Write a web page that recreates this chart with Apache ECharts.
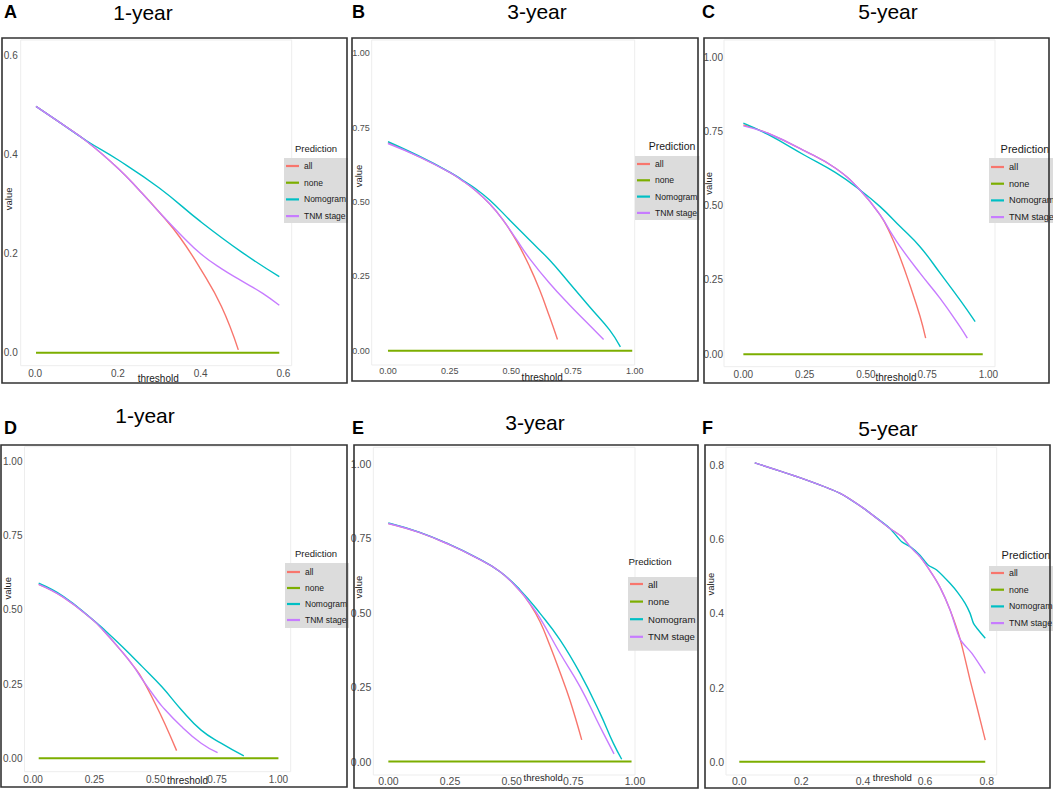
<!DOCTYPE html>
<html><head><meta charset="utf-8">
<script src="https://cdn.jsdelivr.net/npm/echarts@6/dist/echarts.min.js"></script>
<style>html,body{margin:0;padding:0;background:#fff}#c{width:1053px;height:791px}</style>
</head><body><div id="c"></div>
<script>
// ---------- DATA ----------
const seriesNames = ['all', 'none', 'Nomogram', 'TNM stage'];
const panelLetters = ['A', 'B', 'C', 'D', 'E', 'F'];
const panelTitles = ['1-year', '3-year', '5-year', '1-year', '3-year', '5-year'];
const legendTitle = 'Prediction';
const xAxisTitle = 'threshold';
const yAxisTitle = 'value';

const ticksA = [0, 0.2, 0.4, 0.6];
const ticksQuarter = [0, 0.25, 0.5, 0.75, 1];
const ticksF = [0, 0.2, 0.4, 0.6, 0.8];

// Panel A (1-year)
const A_all  = [[0.002,0.498],[0.06,0.465],[0.125,0.427],[0.2,0.373],[0.25,0.33],[0.3,0.284],[0.35,0.233],[0.4,0.169],[0.45,0.094],[0.491,0.006]];
const A_none = [[0.002,0],[0.59,0]];
const A_nom  = [[0.002,0.498],[0.06,0.465],[0.125,0.428],[0.2,0.39],[0.3,0.333],[0.4,0.265],[0.5,0.203],[0.59,0.154]];
const A_tnm  = [[0.002,0.498],[0.06,0.465],[0.125,0.427],[0.2,0.373],[0.25,0.33],[0.3,0.284],[0.35,0.24],[0.4,0.2],[0.45,0.17],[0.5,0.145],[0.55,0.12],[0.59,0.096]];

// Panel B (3-year)
const B_all  = [[0,0.70],[0.125,0.653],[0.25,0.6],[0.3,0.573],[0.35,0.542],[0.412,0.494],[0.466,0.44],[0.52,0.37],[0.574,0.283],[0.615,0.204],[0.655,0.114],[0.687,0.038]];
const B_none = [[0,0],[0.99,0]];
const B_nom  = [[0,0.703],[0.125,0.655],[0.25,0.601],[0.3,0.575],[0.35,0.548],[0.412,0.507],[0.493,0.44],[0.574,0.372],[0.655,0.305],[0.736,0.227],[0.817,0.148],[0.898,0.07],[0.942,0.013]];
const B_tnm  = [[0,0.697],[0.125,0.653],[0.25,0.6],[0.3,0.573],[0.35,0.542],[0.412,0.494],[0.466,0.44],[0.52,0.375],[0.574,0.31],[0.655,0.227],[0.736,0.154],[0.817,0.086],[0.874,0.038]];

// Panel C (5-year)
const C_all  = [[0,0.772],[0.1,0.744],[0.25,0.685],[0.375,0.627],[0.476,0.553],[0.558,0.469],[0.6,0.405],[0.64,0.325],[0.68,0.232],[0.721,0.128],[0.744,0.054]];
const C_none = [[0,0],[0.977,0]];
const C_nom  = [[0,0.778],[0.1,0.74],[0.25,0.67],[0.375,0.612],[0.476,0.553],[0.558,0.497],[0.64,0.43],[0.721,0.362],[0.803,0.273],[0.884,0.183],[0.946,0.11]];
const C_tnm  = [[0,0.769],[0.1,0.744],[0.25,0.685],[0.375,0.627],[0.476,0.553],[0.558,0.469],[0.6,0.413],[0.64,0.362],[0.721,0.273],[0.803,0.188],[0.884,0.093],[0.914,0.054]];

// Panel D (1-year)
const D_all  = [[0.023,0.586],[0.123,0.543],[0.244,0.466],[0.284,0.433],[0.364,0.358],[0.41,0.31],[0.445,0.268],[0.498,0.184],[0.538,0.115],[0.585,0.026]];
const D_none = [[0.023,0],[1.0,0]];
const D_nom  = [[0.023,0.59],[0.123,0.546],[0.244,0.467],[0.284,0.438],[0.364,0.376],[0.445,0.309],[0.525,0.241],[0.605,0.163],[0.685,0.095],[0.766,0.051],[0.859,0.008]];
const D_tnm  = [[0.023,0.586],[0.123,0.543],[0.244,0.466],[0.284,0.433],[0.364,0.358],[0.41,0.31],[0.445,0.266],[0.498,0.205],[0.525,0.176],[0.605,0.107],[0.685,0.051],[0.752,0.019]];

// Panel E (3-year)
const E_all  = [[0,0.80],[0.125,0.77],[0.25,0.728],[0.35,0.688],[0.453,0.638],[0.534,0.573],[0.575,0.528],[0.615,0.47],[0.655,0.39],[0.696,0.3],[0.736,0.207],[0.784,0.073]];
const E_none = [[0,0],[0.986,0]];
const E_nom  = [[0,0.802],[0.125,0.771],[0.25,0.729],[0.35,0.689],[0.453,0.638],[0.534,0.577],[0.615,0.498],[0.696,0.409],[0.777,0.297],[0.858,0.163],[0.912,0.062],[0.946,0.008]];
const E_tnm  = [[0,0.80],[0.125,0.77],[0.25,0.728],[0.35,0.688],[0.453,0.638],[0.534,0.573],[0.575,0.53],[0.615,0.482],[0.696,0.364],[0.777,0.252],[0.858,0.118],[0.915,0.026]];

// Panel F (5-year)
const F_all  = [[0.05,0.806],[0.2,0.765],[0.326,0.724],[0.401,0.684],[0.487,0.629],[0.525,0.607],[0.552,0.58],[0.584,0.553],[0.622,0.508],[0.649,0.47],[0.681,0.41],[0.714,0.33],[0.746,0.22],[0.768,0.148],[0.795,0.058]];
const F_none = [[0,0],[0.795,0]];
const F_nom  = [[0.05,0.806],[0.2,0.765],[0.326,0.724],[0.401,0.684],[0.423,0.67],[0.487,0.629],[0.525,0.593],[0.552,0.58],[0.584,0.557],[0.611,0.53],[0.638,0.517],[0.681,0.481],[0.708,0.454],[0.73,0.427],[0.746,0.4],[0.757,0.373],[0.768,0.36],[0.795,0.333]];
const F_tnm  = [[0.05,0.806],[0.2,0.765],[0.326,0.724],[0.401,0.684],[0.487,0.629],[0.525,0.607],[0.552,0.58],[0.584,0.553],[0.622,0.508],[0.649,0.47],[0.681,0.41],[0.714,0.33],[0.752,0.292],[0.795,0.238]];

const panelData = [
  [A_all, A_none, A_nom, A_tnm],
  [B_all, B_none, B_nom, B_tnm],
  [C_all, C_none, C_nom, C_tnm],
  [D_all, D_none, D_nom, D_tnm],
  [E_all, E_none, E_nom, E_tnm],
  [F_all, F_none, F_nom, F_tnm]
];
const panelTicks = [
  [ticksA, ticksA, 1],
  [ticksQuarter, ticksQuarter, 2],
  [ticksQuarter, ticksQuarter, 2],
  [ticksQuarter, ticksQuarter, 2],
  [ticksQuarter, ticksQuarter, 2],
  [ticksF, ticksF, 1]
];

// ---------- LAYOUT / STYLE ----------
const colors = ['#F8766D', '#7CAE00', '#00BFC4', '#C77CFF'];
const widths = [1.4, 2, 1.4, 1.4];
const FONT = '"Liberation Sans", Arial, Helvetica, sans-serif';

const L = [
  { frame:[2,38,345,345], grid:[20.7,40,271,325.7], xr:[-0.035,0.62], yr:[-0.026,0.632], tick:10,
    letter:[4,11.5], year:[143,12], pred:[316,148,9.5], leg:{left:284,top:158,gap:4.7,pad:[2,2,1,2],fs:8.5},
    xname:{gap:8,shift:4,fs:10}, yname:{gap:7,shift:8}, xlm:3, ylm:3 },
  { frame:[352,38,346,343], grid:[371.7,40,263,325], xr:[-0.066,1.0], yr:[-0.048,1.045], tick:9,
    letter:[352,11.5], year:[537,11], pred:[672,146,10.5], leg:{left:635,top:156,gap:4.3,pad:[2,2,1,2],fs:8.6},
    xname:{gap:7.5,shift:78,fs:10}, yname:{gap:8.4,shift:53}, xlm:1, ylm:2 },
  { frame:[704,38,345,345], grid:[724,40,271,326.7], xr:[-0.079,1.027], yr:[-0.042,1.058], tick:10,
    letter:[702,11.5], year:[888,11], pred:[1025,149,11], leg:{left:989,top:158,gap:4.7,pad:[3,2,0,2],fs:9.2},
    xname:{gap:6,shift:73,fs:10}, yname:{gap:11,shift:40}, xlm:3, ylm:1 },
  { frame:[1,445,346,342], grid:[20.7,446.7,270,325], xr:[-0.035,1.05], yr:[-0.045,1.05], tick:10,
    letter:[4,427.5], year:[145,415.5], pred:[316,553,9.5], leg:{left:285,top:563,gap:4,pad:[3,2,2,2],fs:8.5},
    xname:{gap:3.5,shift:60,fs:10}, yname:{gap:12.4,shift:42}, xlm:3, ylm:2 },
  { frame:[354,445,344,343], grid:[373.3,447.3,261.7,327.7], xr:[-0.061,1.0], yr:[-0.045,1.056], tick:10.5,
    letter:[352,427.5], year:[535,422.5], pred:[650,561,9.7], leg:{left:628,top:577,gap:5.6,pad:[1,2,8,2],fs:9.6},
    xname:{gap:-2.5,shift:78,fs:9.5}, yname:{gap:10,shift:48}, xlm:0, ylm:2 },
  { frame:[705,445,345,343], grid:[726,447.3,270.7,327.7], xr:[-0.043,0.832], yr:[-0.036,0.848], tick:10.5,
    letter:[702,427.5], year:[888,428.5], pred:[1026,555,11], leg:{left:989,top:566,gap:4.7,pad:[1,2,2,2],fs:8.8},
    xname:{gap:-2.5,shift:62,fs:9.5}, yname:{gap:11,shift:54}, xlm:0, ylm:2 }
];

// ---------- BUILD ----------
const grid = [], xAxis = [], yAxis = [], series = [], legend = [], graphics = [];

L.forEach((p, i) => {
  const [xt, yt, dg] = panelTicks[i];
  grid.push({ left:p.grid[0], top:p.grid[1], width:p.grid[2], height:p.grid[3],
    show:true, borderColor:'#ededed', borderWidth:1, backgroundColor:'#ffffff', containLabel:false });
  xAxis.push({ type:'value', gridIndex:i, min:p.xr[0], max:p.xr[1],
    name:xAxisTitle, nameLocation:'middle', nameGap:p.xname.gap, nameMoveOverlap:false,
    nameTextStyle:{ fontSize:p.xname.fs, color:'#1a1a1a', fontFamily:FONT, padding:[0,0,0,p.xname.shift] },
    axisLine:{show:false}, axisTick:{show:false}, splitLine:{show:false},
    axisLabel:{ customValues:xt, formatter:v => Number(v).toFixed(dg), fontSize:p.tick, color:'#4d4d4d', fontFamily:FONT, margin:p.xlm, hideOverlap:false }
  });
  yAxis.push({ type:'value', gridIndex:i, min:p.yr[0], max:p.yr[1],
    name:yAxisTitle, nameLocation:'middle', nameGap:p.yname.gap, nameMoveOverlap:false,
    nameTextStyle:{ fontSize:9.5, color:'#1a1a1a', fontFamily:FONT, padding:[0,0,0,p.yname.shift] },
    axisLine:{show:false}, axisTick:{show:false}, splitLine:{show:false},
    axisLabel:{ customValues:yt, formatter:v => Number(v).toFixed(dg), fontSize:p.tick, color:'#4d4d4d', fontFamily:FONT, margin:p.ylm, hideOverlap:false }
  });
  panelData[i].forEach((d, k) => {
    series.push({ type:'line', name:seriesNames[k], xAxisIndex:i, yAxisIndex:i, data:d,
      showSymbol:false, symbol:'none', smooth:(i === 5 ? 0.25 : 0.45), silent:true,
      lineStyle:{ color:colors[k], width:widths[k] }, itemStyle:{ color:colors[k] }, z:2 + k });
  });
  legend.push({ orient:'vertical', left:p.leg.left, top:p.leg.top, data:seriesNames, icon:'rect',
    itemWidth:13, itemHeight:2.2, itemGap:p.leg.gap, padding:p.leg.pad, backgroundColor:'#dcdcdc',
    selectedMode:false, textStyle:{ fontSize:p.leg.fs, lineHeight:12, color:'#1a1a1a', fontFamily:FONT } });
  graphics.push({ type:'rect', shape:{ x:p.frame[0], y:p.frame[1], width:p.frame[2], height:p.frame[3] },
    style:{ fill:'none', stroke:'#333333', lineWidth:1.6 }, z:100, silent:true });
  graphics.push({ type:'text', x:p.letter[0], y:p.letter[1],
    style:{ text:panelLetters[i], fontSize:18, fontWeight:'bold', fontFamily:FONT, fill:'#000', textAlign:'left', textVerticalAlign:'middle' } });
  graphics.push({ type:'text', x:p.year[0], y:p.year[1],
    style:{ text:panelTitles[i], fontSize:21, fontFamily:FONT, fill:'#000', textAlign:'center', textVerticalAlign:'middle' } });
  graphics.push({ type:'text', x:p.pred[0], y:p.pred[1],
    style:{ text:legendTitle, fontSize:p.pred[2], fontFamily:FONT, fill:'#1a1a1a', textAlign:'center', textVerticalAlign:'middle' } });
});

const chart = echarts.init(document.getElementById('c'), null, { renderer:'svg', width:1053, height:791 });
chart.setOption({
  animation:false,
  backgroundColor:'#ffffff',
  grid, xAxis, yAxis, series, legend,
  graphic:{ elements:graphics }
});
</script>
</body></html>
